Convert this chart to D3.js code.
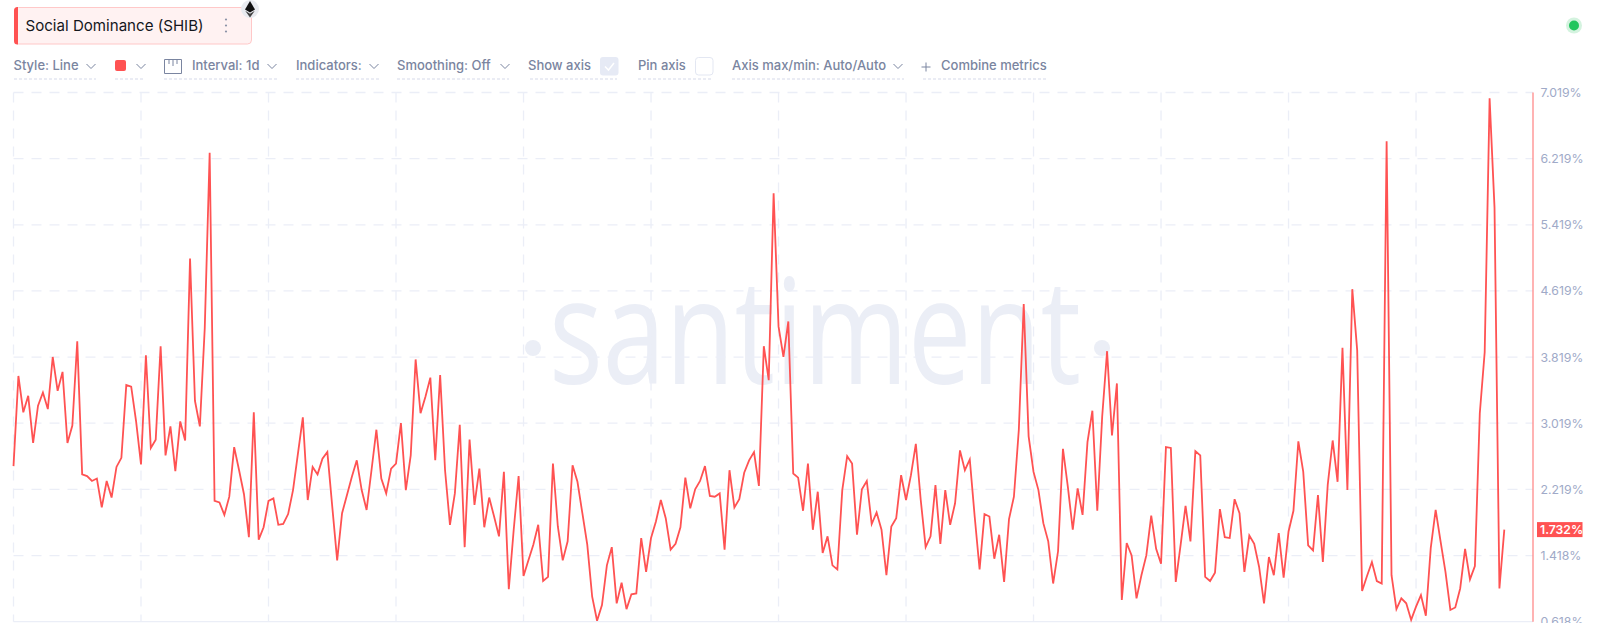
<!DOCTYPE html>
<html><head><meta charset="utf-8">
<script src="https://cdnjs.cloudflare.com/ajax/libs/d3/7.8.5/d3.min.js"></script>
<style>html,body{margin:0;padding:0;background:#fff;overflow:hidden}svg{display:block}text{font-family:Inter,"Open Sans",sans-serif}</style>
</head><body><svg id="c" width="1600" height="623"></svg>
<script>
const metricName = "Social Dominance (SHIB)";
const socialDominance = [
2.50,3.59,3.15,3.35,2.78,3.23,3.39,3.19,3.82,3.41,3.64,2.78,2.99,4.01,2.40,2.38,2.32,2.35,2.00,2.32,2.12,2.49,2.60,3.48,3.46,3.04,
2.52,3.84,2.72,2.82,3.95,2.63,2.98,2.44,3.04,2.81,5.01,3.29,2.98,4.17,6.29,2.08,2.06,1.91,2.13,2.73,2.45,2.16,1.64,3.15,1.61,1.76,
2.08,2.11,1.79,1.80,1.92,2.21,2.65,3.09,2.09,2.49,2.40,2.59,2.67,2.01,1.36,1.93,2.15,2.37,2.57,2.21,1.97,2.45,2.94,2.35,2.17,2.47,
2.53,3.02,2.21,2.63,3.79,3.14,3.34,3.57,2.57,3.60,2.45,1.79,2.17,3.00,1.52,2.82,2.03,2.47,1.76,2.12,1.89,1.65,2.43,1.01,1.73,2.38,
1.17,1.36,1.55,1.79,1.11,1.16,2.53,1.77,1.36,1.59,2.51,2.31,1.93,1.55,0.92,0.63,0.82,1.30,1.52,0.84,1.09,0.77,0.95,0.96,1.63,1.22,
1.63,1.83,2.09,1.87,1.49,1.56,1.76,2.36,1.99,2.22,2.32,2.50,2.14,2.13,2.17,1.49,2.45,2.00,2.10,2.42,2.57,2.67,2.26,3.95,3.54,5.80,
4.19,3.82,4.25,2.41,2.36,1.96,2.53,1.73,2.19,1.45,1.65,1.30,1.25,2.21,2.62,2.53,1.67,2.22,2.32,1.80,1.94,1.73,1.18,1.77,1.87,2.39,
2.09,2.39,2.77,2.09,1.52,1.65,2.27,1.56,2.21,1.79,2.05,2.69,2.45,2.58,1.89,1.25,1.92,1.89,1.38,1.67,1.10,1.86,2.13,2.94,4.46,2.86,
2.43,2.21,1.81,1.59,1.08,1.47,2.71,2.25,1.73,2.23,1.91,2.79,3.17,1.96,3.10,3.89,2.87,3.50,0.88,1.57,1.42,0.90,1.18,1.42,1.90,1.50,
1.32,2.73,2.72,1.10,1.55,2.02,1.59,2.68,2.63,1.16,1.11,1.21,1.98,1.64,1.63,2.10,1.93,1.22,1.66,1.56,1.28,0.84,1.40,1.18,1.69,1.15,
1.71,1.96,2.80,2.43,1.54,1.48,2.15,1.34,2.28,2.81,2.31,3.93,2.21,4.64,3.90,0.99,1.17,1.34,1.11,1.08,6.43,1.18,0.77,0.90,0.84,0.64,
0.80,0.94,0.69,1.51,1.97,1.59,1.22,0.76,0.79,1.02,1.50,1.13,1.29,3.14,3.88,6.95,5.63,1.02,1.732];
const yTickValues = [7.019,6.219,5.419,4.619,3.819,3.019,2.219,1.418,0.618];
const yTickLabels = ["7.019%","6.219%","5.419%","4.619%","3.819%","3.019%","2.219%","1.418%","0.618%"];
const xGridDays = [0,26,52,78,104,130,156,182,208,234,260,286];
const lastLabel = "1.732%";

const RED="#ff5252", GRID="#ebeef7", LABEL="#a0aac8", CTRL="#7a85a0";
const L=13.5, PR=1533, T=92.5, B=621.7, stepX=4.904;
const svg=d3.select("#c");
const x=d3.scaleLinear().domain([0,socialDominance.length-1]).range([L,L+(socialDominance.length-1)*stepX]);
const y=d3.scaleLinear().domain([0.618,7.019]).range([B,T]);

/* watermark */
const wm=svg.append("g").attr("fill","#ebeef6");
wm.append("text").attr("x",549).attr("y",384).attr("font-size",146).attr("font-weight",400)
  .style("font-family","'Open Sans'").attr("textLength",532).attr("lengthAdjust","spacingAndGlyphs").text("santiment");
wm.append("circle").attr("cx",533).attr("cy",348).attr("r",8);
wm.append("circle").attr("cx",1102).attr("cy",348).attr("r",8);

/* grid */
const grid=svg.append("g").attr("stroke",GRID).attr("stroke-width",1.3).attr("stroke-dasharray","10 8").attr("fill","none");
grid.selectAll("line.h").data(yTickValues.slice(0,-1)).join("line").attr("class","h")
  .attr("x1",L).attr("x2",PR).attr("y1",d=>y(d)).attr("y2",d=>y(d));
grid.selectAll("line.v").data(xGridDays).join("line").attr("class","v")
  .attr("x1",d=>x(d)).attr("x2",d=>x(d)).attr("y1",T).attr("y2",B);
svg.append("line").attr("x1",L).attr("x2",PR).attr("y1",B).attr("y2",B).attr("stroke",GRID).attr("stroke-width",1.3);

/* line */
svg.append("path").datum(socialDominance).attr("fill","none").attr("stroke",RED).attr("stroke-width",1.8)
  .attr("stroke-linejoin","miter").attr("d",d3.line().x((d,i)=>x(i)).y(d=>y(d)));

/* right axis */
svg.append("line").attr("x1",PR).attr("x2",PR).attr("y1",T).attr("y2",B).attr("stroke","#ff8a8a").attr("stroke-width",1.3);
svg.selectAll("text.yl").data(yTickValues).join("text").attr("class","yl")
  .attr("x",1540.5).attr("y",d=>y(d)+4.5).attr("font-size",12.3).attr("fill",LABEL).text((d,i)=>yTickLabels[i]);
const lastV=socialDominance[socialDominance.length-1];
svg.append("rect").attr("x",1537).attr("y",y(lastV)-7.5).attr("width",45.5).attr("height",15).attr("fill",RED);
svg.append("text").attr("x",1540).attr("y",y(lastV)+4.5).attr("font-size",12.2).attr("font-weight",600).attr("fill","#fff").text(lastLabel);

/* metric badge */
svg.append("rect").attr("x",14.5).attr("y",7.5).attr("width",237).attr("height",36.5).attr("rx",4).attr("fill","#fff2f2").attr("stroke","#ffc8c8");
svg.append("path").attr("d","M18 7H17.5A3.5 3.5 0 0 0 14 10.5V41A3.5 3.5 0 0 0 17.5 44.5H18Z").attr("fill",RED);
svg.append("text").attr("x",25.5).attr("y",30.5).attr("font-size",15.1).attr("fill","#15171c").text(metricName);
[-6,0,6].forEach(d=>svg.append("circle").attr("cx",226).attr("cy",25.5+d).attr("r",1.1).attr("fill","#8b93a7"));
/* ethereum badge */
svg.append("circle").attr("cx",250).attr("cy",9).attr("r",9).attr("fill","#e9ebf0");
svg.append("path").attr("d","M250 1L255 9.5L250 12.5L245 9.5Z").attr("fill","#111");
svg.append("path").attr("d","M245.2 10.8L250 13.8L254.8 10.8L250 17.5Z").attr("fill","#444");
/* live dot */
svg.append("circle").attr("cx",1574).attr("cy",25.5).attr("r",8).attr("fill","#d4f3df");
svg.append("circle").attr("cx",1574).attr("cy",25.5).attr("r",5).attr("fill","#22c55e");

/* toolbar */
const labels=[["Style: Line",13.5],["Interval: 1d",192],["Indicators:",296],["Smoothing: Off",397],["Show axis",528],["Pin axis",638],["Axis max/min: Auto/Auto",732],["Combine metrics",941]];
svg.selectAll("text.ctl").data(labels).join("text").attr("class","ctl").attr("x",d=>d[1]).attr("y",69.5)
  .attr("font-size",13).attr("font-weight",450).attr("fill",CTRL).text(d=>d[0]);
[91,141,272,374,505,898].forEach(cx=>svg.append("path").attr("d",`M${cx-4.5} 64L${cx} 68.5L${cx+4.5} 64`).attr("fill","none").attr("stroke",CTRL).attr("stroke-width",1));
[[14,96],[115,145],[164,277],[296,379],[397,509],[530,617],[638,713],[732,904],[923,1046]].forEach(s=>
 svg.append("line").attr("x1",s[0]).attr("x2",s[1]).attr("y1",79).attr("y2",79).attr("stroke","#d5daea").attr("stroke-width",1.2).attr("stroke-dasharray","3 2"));
svg.append("rect").attr("x",115).attr("y",60).attr("width",11).attr("height",11).attr("rx",2).attr("fill",RED);
svg.append("path").attr("d","M164.5 59.5H181.5V73.5H164.5ZM169 59.5V64M173 59.5V66M177 59.5V64").attr("fill","none").attr("stroke",CTRL).attr("stroke-width",1);
svg.append("rect").attr("x",600).attr("y",57).attr("width",18.5).attr("height",18.5).attr("rx",3).attr("fill","#e6eaf5");
svg.append("path").attr("d","M605 66.5L608.5 70L614 63").attr("fill","none").attr("stroke","#fff").attr("stroke-width",1.5);
svg.append("rect").attr("x",695.5).attr("y",57.5).attr("width",17.5).attr("height",17.5).attr("rx",3).attr("fill","#fff").attr("stroke","#e3e7f2");
svg.append("path").attr("d","M926 62.5V71.5M921.5 67H930.5").attr("stroke",CTRL).attr("stroke-width",1);
</script></body></html>
